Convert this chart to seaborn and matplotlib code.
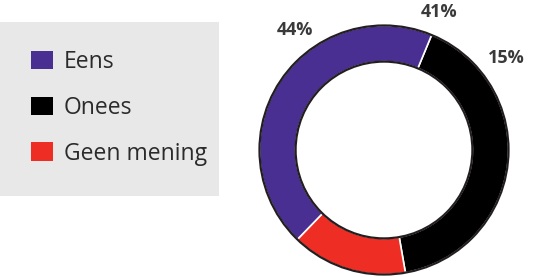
import matplotlib
matplotlib.use("Agg")
import matplotlib.pyplot as plt
import seaborn as sns
from matplotlib.patches import Rectangle, Patch

# data
categories = ["Onees", "Geen mening", "Eens"]
shares = [41, 15, 44]
legend_order = ["Eens", "Onees", "Geen mening"]
colors = {"Eens": "#4a2f92", "Onees": "#000000", "Geen mening": "#ee2e24"}

sns.set_theme(style="white")
plt.rcParams['font.family'] = ['Open Sans', 'DejaVu Sans']

W, H = 542, 277
fig = plt.figure(figsize=(W / 100, H / 100), dpi=100)

# donut axes (center ~ (384,150) px, outer radius ~127 px)
cx, cy, r = 384, 150, 127
ax = fig.add_axes([(cx - r) / W, (H - cy - r) / H, 2 * r / W, 2 * r / H])
wedges, _ = ax.pie(shares, colors=[colors[c] for c in categories],
                   startangle=67.5, counterclock=False, radius=1,
                   wedgeprops=dict(width=0.29, edgecolor="white", linewidth=1.2))
# dark outline on outer and inner edge
ax.add_patch(plt.Circle((0, 0), 1.0, fill=False, edgecolor="#231f20", linewidth=1.6))
ax.add_patch(plt.Circle((0, 0), 0.71, fill=False, edgecolor="#231f20", linewidth=1.6))
ax.set_xlim(-1.02, 1.02)
ax.set_ylim(-1.02, 1.02)
ax.axis("off")

# percentage labels
label_pos = {"Eens": (295, 30), "Onees": (439, 12), "Geen mening": (506, 58)}
for cat, val in zip(categories, shares):
    x, y = label_pos[cat]
    fig.text(x / W, 1 - y / H, f"{val}%", ha="center", va="center",
             fontsize=13, fontweight="bold", color="#3a3a3a")

# legend panel
fig.patches.append(Rectangle((0, 1 - 196 / H), 219 / W, 174 / H,
                             transform=fig.transFigure, facecolor="#e8e8e8",
                             edgecolor="none", zorder=0))
handles = [Patch(facecolor=colors[c], edgecolor="none", label=c) for c in legend_order]
fig.legend(handles=handles, loc="upper left", bbox_to_anchor=(31 / W, 1 - 50 / H),
           frameon=False, fontsize=16.5, handlelength=0.96, handleheight=0.85,
           handletextpad=0.48, labelspacing=0.95, borderpad=0, borderaxespad=0,
           labelcolor="#2b2b2b")

fig.savefig("out.png", dpi=100)
